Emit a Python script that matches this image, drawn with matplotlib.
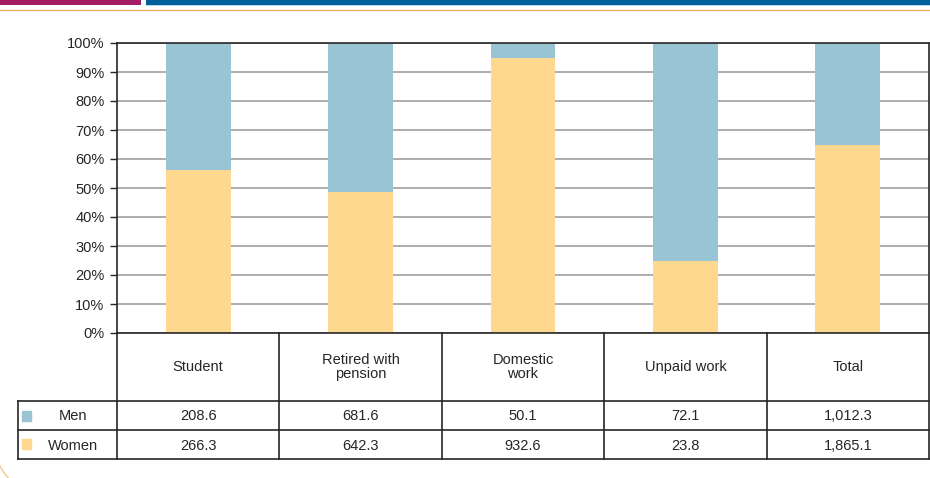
import matplotlib
matplotlib.use("Agg")
import matplotlib.pyplot as plt
from matplotlib.patches import Rectangle, Arc
from matplotlib.lines import Line2D

plt.rcParams['font.family'] = ['Liberation Sans', 'DejaVu Sans']

categories = ["Student", "Retired with\npension", "Domestic\nwork", "Unpaid work", "Total"]
men = [208.6, 681.6, 50.1, 72.1, 1012.3]
women = [266.3, 642.3, 932.6, 23.8, 1865.1]
men_labels = ["208.6", "681.6", "50.1", "72.1", "1,012.3"]
women_labels = ["266.3", "642.3", "932.6", "23.8", "1,865.1"]
yticks = [0, 10, 20, 30, 40, 50, 60, 70, 80, 90, 100]

MEN_C = "#99c4d3"
WOMEN_C = "#fdd88e"
GRID_C = "#a0a0a0"
LINE_C = "#262626"
TEXT_C = "#262626"

W, H = 930, 478
fig = plt.figure(figsize=(W / 100, H / 100), dpi=100)

def fx(px):
    return px / W

def fy(py):
    return 1 - py / H

# plot area
x0, x1 = 117, 929
ytop, ybot = 43, 333
ax = fig.add_axes([fx(x0), fy(ybot), fx(x1) - fx(x0), fy(ytop) - fy(ybot)])

n = len(categories)
pos = list(range(n))
w_share = [100 * w / (m + w) for m, w in zip(men, women)]
m_share = [100 * m / (m + w) for m, w in zip(men, women)]

ax.set_axisbelow(True)
ax.yaxis.grid(True, color=GRID_C, linewidth=1.2)
ax.bar(pos, w_share, width=0.4, color=WOMEN_C, zorder=2)
ax.bar(pos, m_share, width=0.4, bottom=w_share, color=MEN_C, zorder=2)

ax.set_xlim(-0.5, n - 0.5)
ax.set_ylim(0, 100)
ax.set_yticks(yticks)
ax.set_yticklabels([f"{t}%" for t in yticks], fontsize=10.5, color=TEXT_C)
ax.set_xticks([])
ax.tick_params(axis='y', length=5, width=1, color=LINE_C, pad=4)
for s in ["left", "top", "right", "bottom"]:
    ax.spines[s].set_color(LINE_C)
    ax.spines[s].set_linewidth(1.2)

# table beneath the bars
ov = fig.add_axes([0, 0, 1, 1], facecolor="none")
ov.set_xlim(0, W)
ov.set_ylim(H, 0)
ov.axis("off")

col_edges = [x0 + i * (x1 - x0) / n for i in range(n + 1)]
row_head_bot, row_men_bot, row_women_bot = 401, 430, 459
tx0 = 18

def hline(y, xa, xb):
    ov.add_line(Line2D([xa, xb], [y, y], color=LINE_C, linewidth=1.2))

def vline(x, ya, yb):
    ov.add_line(Line2D([x, x], [ya, yb], color=LINE_C, linewidth=1.2))

hline(row_head_bot, tx0, x1)
hline(row_men_bot, tx0, x1)
hline(row_women_bot, tx0, x1)
vline(tx0, row_head_bot, row_women_bot)
for x in col_edges:
    vline(x, ybot, row_women_bot)

for i in range(n):
    cx = (col_edges[i] + col_edges[i + 1]) / 2
    ov.text(cx, (ybot + row_head_bot) / 2, categories[i], ha="center", va="center",
            fontsize=10.5, color=TEXT_C, linespacing=0.95)
    ov.text(cx, (row_head_bot + row_men_bot) / 2 + 1, men_labels[i], ha="center",
            va="center", fontsize=10.5, color=TEXT_C)
    ov.text(cx, (row_men_bot + row_women_bot) / 2 + 1, women_labels[i], ha="center",
            va="center", fontsize=10.5, color=TEXT_C)

# row labels with colour keys
ov.add_patch(Rectangle((22, 411), 9, 10, color=MEN_C))
ov.add_patch(Rectangle((22, 439), 9, 10, color=WOMEN_C))
ov.text(73, (row_head_bot + row_men_bot) / 2 + 1, "Men", ha="center", va="center",
        fontsize=10.5, color=TEXT_C)
ov.text(73, (row_men_bot + row_women_bot) / 2 + 1, "Women", ha="center", va="center",
        fontsize=10.5, color=TEXT_C)

# page header rules
ov.add_patch(Rectangle((0, 0), 141, 5, color="#a21d62", lw=0))
ov.add_patch(Rectangle((146, 0), W - 146, 5, color="#00609c", lw=0))
ov.add_patch(Rectangle((146, 5), W - 146, 1.2, color="#b9d6ea", lw=0))
ov.add_line(Line2D([0, W], [9.5, 9.5], color="#f2b45c", linewidth=1.0))

# decorative corner curve
ov.add_patch(Arc((42, 445), 94, 94, theta1=100, theta2=180, color="#f5c98a", lw=1.0))

fig.savefig("out.png", dpi=100)
